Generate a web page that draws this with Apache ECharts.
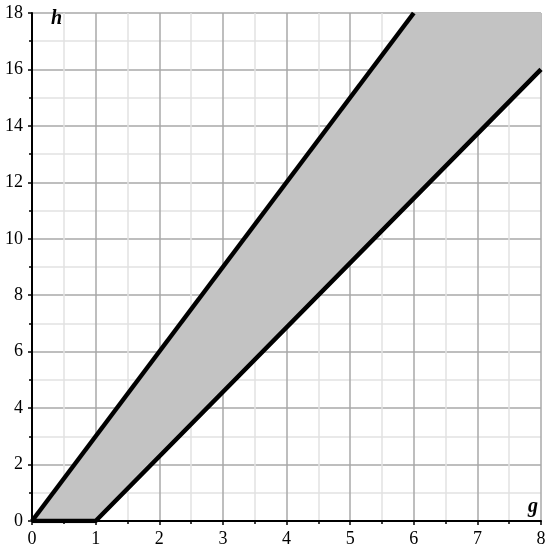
<!DOCTYPE html>
<html><head><meta charset="utf-8">
<script src="https://cdn.jsdelivr.net/npm/echarts@6/dist/echarts.min.js"></script>
<style>html,body{margin:0;padding:0;background:#fff}#c{width:550px;height:555px}</style>
</head><body><div id="c"></div>
<script>
const upperLine = [[0,0],[6,18]];
const lowerLine = [[0,0],[1,0],[8,16]];
const region = [[0,0],[6,18],[8,18],[8,16],[1,0]];
const xRange = [0, 8];
const yRange = [0, 18];

const chart = echarts.init(document.getElementById('c'));
const font = '"Liberation Serif", "Times New Roman", serif';
chart.setOption({
  animation: false,
  grid: {left: 32, right: 9, top: 13, bottom: 34, containLabel: false},
  xAxis: {
    type: 'value', min: xRange[0], max: xRange[1], interval: 1,
    axisLine: {show: true, onZero: false, lineStyle: {color: '#000', width: 2}},
    axisTick: {show: true, length: 4, lineStyle: {color: '#000', width: 1.5}},
    minorTick: {show: true, splitNumber: 2, length: 3, lineStyle: {color: '#000', width: 1.5}},
    splitLine: {show: true, lineStyle: {color: '#a8a8a8', width: 1.5}},
    minorSplitLine: {show: true, lineStyle: {color: '#e2e2e2', width: 1.5}},
    axisLabel: {color: '#000', fontFamily: 'Liberation Serif', fontSize: 18, margin: 9}
  },
  yAxis: {
    type: 'value', min: yRange[0], max: yRange[1], interval: 2,
    axisLine: {show: true, onZero: false, lineStyle: {color: '#000', width: 2}},
    axisTick: {show: true, length: 4, lineStyle: {color: '#000', width: 1.5}},
    minorTick: {show: true, splitNumber: 2, length: 3, lineStyle: {color: '#000', width: 1.5}},
    splitLine: {show: true, lineStyle: {color: '#a8a8a8', width: 1.5}},
    minorSplitLine: {show: true, lineStyle: {color: '#e2e2e2', width: 1.5}},
    axisLabel: {color: '#000', fontFamily: 'Liberation Serif', fontSize: 18, margin: 9}
  },
  graphic: [
    {type: 'text', z: 100, left: 51, top: 9, style: {text: 'h', font: 'italic bold 20px ' + font, fill: '#000'}},
    {type: 'text', z: 100, left: 528, top: 497, style: {text: 'g', font: 'italic bold 20px ' + font, fill: '#000'}}
  ],
  series: [
    {
      type: 'custom', silent: true, z: 1,
      renderItem: function (params, api) {
        if (params.dataIndex !== 0) return;
        const pts = region.map(p => api.coord(p));
        return {type: 'polygon', shape: {points: pts}, style: {fill: '#c3c3c3'}};
      },
      data: region
    },
    {type: 'line', data: upperLine, symbol: 'none', z: 3, lineStyle: {color: '#000', width: 4.5}},
    {type: 'line', data: lowerLine, symbol: 'none', z: 3, lineStyle: {color: '#000', width: 4.5}}
  ]
});
</script></body></html>
